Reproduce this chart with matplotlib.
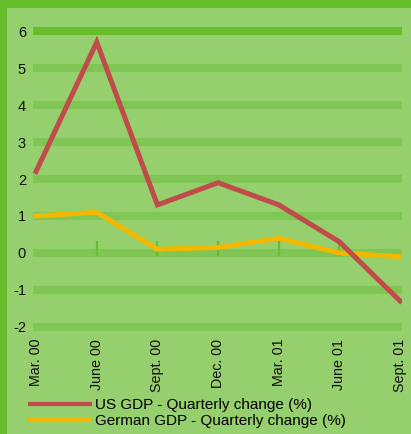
import matplotlib.pyplot as plt
from matplotlib.patches import Rectangle
from matplotlib.lines import Line2D

quarters = ["Mar. 00", "June 00", "Sept. 00", "Dec. 00", "Mar. 01", "June 01", "Sept. 01"]
us_gdp = [2.2, 5.7, 1.3, 1.9, 1.3, 0.3, -1.3]
de_gdp = [1.0, 1.1, 0.1, 0.15, 0.4, 0.0, -0.1]
yticks = [-2, -1, 0, 1, 2, 3, 4, 5, 6]

border = "#66bf2a"
bg = "#95cf6e"
grid = "#80c655"
red = "#c14b4b"
yellow = "#f2b800"

plt.rcParams['font.family'] = ['Liberation Sans', 'DejaVu Sans']

fig = plt.figure(figsize=(4.11, 4.34), dpi=100)
fig.patch.set_facecolor(border)
fig.patches.append(Rectangle((7 / 411, 0), 1, 1 - 8 / 434, transform=fig.transFigure,
                             facecolor=bg, edgecolor="none", zorder=-5))

ax = fig.add_axes([33 / 411, (434 - 332.5) / 434, 369 / 411, 307 / 434])
ax.set_facecolor("none")
for s in ax.spines.values():
    s.set_visible(False)

for v in yticks:
    ax.axhline(v, color=border if v == 6 else grid, lw=5.8, zorder=1)
ax.vlines(range(1, 6), -0.08, 0.32, color=border, lw=1.6, zorder=2)

x = range(len(quarters))
ax.plot(x, us_gdp, color=red, lw=3.6, zorder=4, solid_joinstyle="miter")
ax.plot(x, de_gdp, color=yellow, lw=3.6, zorder=3, solid_joinstyle="miter")

ax.set_xlim(-0.05, 6.03)
ax.set_ylim(-2.15, 6.15)
ax.set_yticks(yticks)
ax.set_yticklabels([str(v) for v in yticks], fontsize=10.5, color="#111111")
ax.set_xticks(list(x))
ax.set_xticklabels(quarters, rotation=90, fontsize=10.3, color="#111111", va="top")
ax.tick_params(axis="both", length=0)
ax.tick_params(axis="y", pad=5)
ax.tick_params(axis="x", pad=4.5)

handles = [Line2D([], [], color=red, lw=3), Line2D([], [], color=yellow, lw=3)]
fig.legend(handles, ["US GDP - Quarterly change (%)", "German GDP - Quarterly change (%)"],
           loc="upper left", bbox_to_anchor=(30 / 411, 1 - 398 / 434), frameon=False,
           fontsize=11, handlelength=3.9, handletextpad=0.33, labelspacing=0.15,
           borderaxespad=0, borderpad=0)

fig.savefig("out.png", dpi=100, facecolor=fig.get_facecolor())
